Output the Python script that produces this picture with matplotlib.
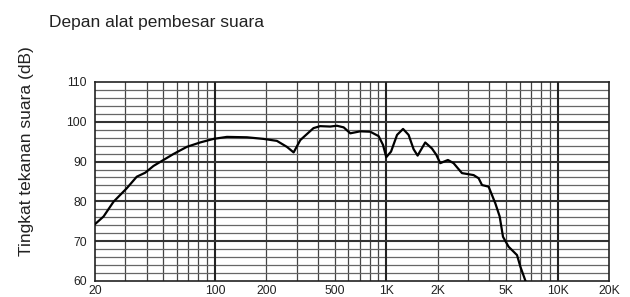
#!/usr/bin/env python3
"""Frequency response curve, front of the loudspeaker."""

import matplotlib.pyplot as plt
from matplotlib.ticker import FixedLocator, NullFormatter

# traced response (Hz, dB)
freq = [20, 22.4, 25.6, 30.6, 35.0, 39.2, 43.8, 50.1, 57.3, 68.6, 82, 98.2,
        117.5, 153.8, 192, 230, 263, 288, 315, 376, 411, 471, 515, 564, 617,
        705, 806, 902, 957, 1000, 1066, 1156, 1253, 1350, 1444, 1524, 1688,
        1846, 1959, 2065, 2290, 2470, 2765, 3235, 3460, 3620, 3955, 4330,
        4590, 4800, 5175, 5795, 6060, 6480, 6700]
spl = [74.3, 76.2, 79.9, 83.3, 86.2, 87.2, 88.9, 90.4, 91.9, 93.7, 94.8, 95.7,
       96.2, 96.1, 95.7, 95.2, 93.7, 92.3, 95.4, 98.4, 98.9, 98.8, 99.0, 98.6,
       97.1, 97.6, 97.5, 96.4, 94.2, 91.1, 92.5, 96.7, 98.2, 96.7, 93.1, 91.5,
       94.8, 93.3, 91.7, 89.6, 90.4, 89.6, 87.1, 86.6, 85.8, 84.1, 83.7, 79.5,
       76.2, 71.1, 68.6, 66.5, 63.6, 60.1, 58.5]

x_ticks = [20, 100, 200, 500, 1000, 2000, 5000, 10000, 20000]
x_labels = ["20", "100", "200", "500", "1K", "2K", "5K", "10K", "20K"]
y_ticks = [60, 70, 80, 90, 100, 110]

title = "Depan alat pembesar suara"
ylabel = "Tingkat tekanan suara (dB)"

plt.rcParams["font.family"] = ["Liberation Sans", "DejaVu Sans"]

fig = plt.figure(figsize=(6.3, 2.97), dpi=100)
ax = fig.add_axes([0.151, 0.054, 0.816, 0.670])

ax.set_xscale("log")
ax.set_xlim(20, 20000)
ax.set_ylim(60, 110)

# grid: minor every 2 dB / every unit per decade, major at decades and 10 dB
minor_x = [m * 10 ** d for d in range(1, 5) for m in range(2, 10)]
minor_x = [v for v in minor_x if 20 < v < 20000]
for v in minor_x:
    ax.axvline(v, color="#444444", lw=0.9, zorder=1)
for v in (100, 1000, 10000):
    ax.axvline(v, color="#222222", lw=1.5, zorder=2)
for v in range(62, 110, 2):
    if v % 10:
        ax.axhline(v, color="#666666", lw=0.9, zorder=1)
for v in y_ticks[1:-1]:
    ax.axhline(v, color="#333333", lw=1.5, zorder=2)

ax.plot(freq, spl, color="black", lw=1.6, zorder=3, clip_on=True)

ax.xaxis.set_major_locator(FixedLocator(x_ticks))
ax.xaxis.set_minor_locator(FixedLocator([]))
ax.xaxis.set_minor_formatter(NullFormatter())
ax.set_xticks(x_ticks, x_labels)
ax.set_yticks(y_ticks)
ax.tick_params(axis="both", length=0, labelsize=8.8, labelcolor="#222222")
ax.tick_params(axis="x", pad=3)
ax.tick_params(axis="y", pad=6)

for s in ax.spines.values():
    s.set_color("#222222")
    s.set_linewidth(1.2)

fig.text(0.078, 0.925, title, fontsize=12.5, color="#222222",
         ha="left", va="center")
fig.text(0.042, 0.49, ylabel, fontsize=12.5, color="#222222", rotation=90,
         ha="center", va="center")

fig.savefig("out.png", dpi=100)
